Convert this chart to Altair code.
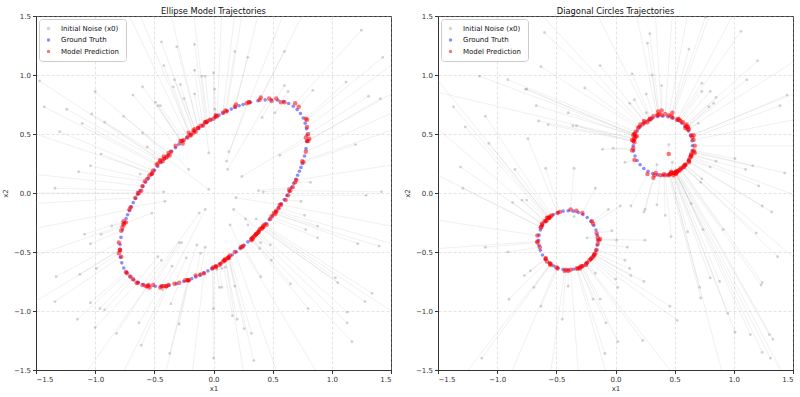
import altair as alt
import pandas as pd

# ---------------------------------------------------------------- data
TICKS = [-1.5, -1.0, -0.5, 0.0, 0.5, 1.0, 1.5]
SERIES = ["Initial Noise (x0)", "Ground Truth", "Model Prediction"]

# Ellipse target samples
ellipse_gt = [
    (0.707, 0.707), (0.674, 0.735), (0.635, 0.758), (0.592, 0.775), (0.544, 0.786), (0.491, 0.790),
    (0.436, 0.789), (0.376, 0.782), (0.314, 0.769), (0.250, 0.750), (0.217, 0.739), (0.184, 0.726),
    (0.150, 0.711), (0.116, 0.696), (0.082, 0.678), (0.047, 0.660), (0.013, 0.640), (-0.021, 0.620),
    (-0.056, 0.598), (-0.091, 0.574), (-0.124, 0.550), (-0.158, 0.525), (-0.192, 0.498), (-0.225, 0.471),
    (-0.258, 0.443), (-0.291, 0.414), (-0.322, 0.384), (-0.354, 0.354), (-0.384, 0.322), (-0.414, 0.291),
    (-0.443, 0.258), (-0.471, 0.225), (-0.498, 0.192), (-0.525, 0.158), (-0.550, 0.124), (-0.574, 0.091),
    (-0.598, 0.056), (-0.620, 0.021), (-0.640, -0.013), (-0.660, -0.047), (-0.678, -0.082), (-0.696, -0.116),
    (-0.711, -0.150), (-0.726, -0.184), (-0.739, -0.217), (-0.750, -0.250), (-0.769, -0.314), (-0.782, -0.376),
    (-0.789, -0.436), (-0.790, -0.491), (-0.786, -0.544), (-0.775, -0.592), (-0.758, -0.635), (-0.735, -0.674),
    (-0.707, -0.707), (-0.674, -0.735), (-0.635, -0.758), (-0.592, -0.775), (-0.544, -0.786), (-0.491, -0.790),
    (-0.436, -0.789), (-0.376, -0.782), (-0.314, -0.769), (-0.250, -0.750), (-0.217, -0.739), (-0.184, -0.726),
    (-0.150, -0.711), (-0.116, -0.696), (-0.082, -0.678), (-0.047, -0.660), (-0.013, -0.640), (0.021, -0.620),
    (0.056, -0.598), (0.091, -0.574), (0.124, -0.550), (0.158, -0.525), (0.192, -0.498), (0.225, -0.471),
    (0.258, -0.443), (0.291, -0.414), (0.322, -0.384), (0.354, -0.354), (0.384, -0.322), (0.414, -0.291),
    (0.443, -0.258), (0.471, -0.225), (0.498, -0.192), (0.525, -0.158), (0.550, -0.124), (0.574, -0.091),
    (0.598, -0.056), (0.620, -0.021), (0.640, 0.013), (0.660, 0.047), (0.678, 0.082), (0.696, 0.116),
    (0.711, 0.150), (0.726, 0.184), (0.739, 0.217), (0.750, 0.250), (0.769, 0.314), (0.782, 0.376),
    (0.789, 0.436), (0.790, 0.491), (0.786, 0.544), (0.775, 0.592), (0.758, 0.635), (0.735, 0.674),
]

# Ellipse model: starting noise and where each sample ends up
ellipse_noise = [
    (1.25, 1.38), (-0.44, 1.28), (-0.31, 1.24), (-0.16, 1.26), (0.18, 1.20), (0.29, 1.15), (0.60, 1.20),
    (1.43, 1.15), (-0.42, 1.08), (-0.16, 1.04), (-0.10, 0.99), (-0.07, 0.99), (0.00, 1.02), (-1.47, 0.95),
    (-0.33, 0.96), (-0.34, 0.90), (-0.28, 0.92), (-0.60, 0.90), (0.01, 0.88), (0.60, 0.91), (0.63, 0.86),
    (0.84, 0.87), (1.12, 0.94), (-1.00, 0.86), (-0.68, 0.83), (-0.16, 0.84), (-0.25, 0.80), (1.31, 0.82),
    (1.41, 0.80), (-1.43, 0.73), (-1.24, 0.71), (-0.49, 0.77), (-0.47, 0.74), (-0.45, 0.74), (-1.03, 0.67),
    (0.01, 0.71), (-0.76, 0.65), (-0.92, 0.60), (-1.11, 0.59), (0.41, 0.64), (0.52, 0.68), (-1.30, 0.52),
    (-0.60, 0.51), (1.20, 0.41), (-0.56, 0.39), (-0.04, 0.34), (0.13, 0.35), (0.56, 0.32), (-0.95, 0.33),
    (-1.04, 0.23), (-1.14, 0.18), (0.11, 0.27), (0.12, 0.20), (-0.21, 0.20), (0.24, 0.14), (0.82, 0.09),
    (-0.62, 0.16), (-1.34, 0.04), (-0.04, 0.03), (-0.42, 0.01), (1.29, -0.02), (1.42, 0.01), (0.38, 0.02),
    (0.42, 0.01), (0.19, -0.04), (-0.41, -0.07), (-0.52, -0.17), (-0.12, -0.17), (-0.07, -0.14), (0.17, -0.14),
    (0.27, -0.22), (0.29, -0.27), (0.36, -0.22), (0.14, -0.27), (0.74, -0.07), (0.77, -0.19), (0.78, -0.31),
    (0.88, -0.28), (0.88, -0.38), (1.22, -0.43), (1.40, -0.45), (-1.09, -0.35), (-0.95, -0.35), (-1.04, -0.43),
    (-0.86, -0.28), (-0.29, -0.42), (-0.27, -0.42), (-0.14, -0.44), (-0.11, -0.51), (-0.07, -0.46), (-0.47, -0.54),
    (-0.44, -0.57), (-0.23, -0.55), (-0.35, -0.62), (-0.99, -0.64), (-1.13, -0.69), (-1.33, -0.71), (0.03, -0.65),
    (0.07, -0.64), (0.10, -0.63), (0.40, -0.42), (0.48, -0.44), (0.39, -0.47), (0.49, -0.57), (0.40, -0.71),
    (0.05, -0.80), (0.07, -0.80), (0.18, -0.79), (-0.43, -0.82), (0.65, -0.77), (1.03, -0.72), (1.05, -0.76),
    (1.34, -0.85), (1.28, -0.92), (-1.34, -0.92), (-1.04, -0.93), (-0.96, -0.98), (-0.92, -0.99), (-0.36, -0.94),
    (0.00, -0.98), (0.80, -0.98), (1.13, -1.01), (-1.15, -1.07), (-0.63, -1.10), (-0.29, -1.11), (0.16, -1.04),
    (0.20, -1.07), (0.26, -1.15), (0.32, -1.19), (1.13, -1.10), (-1.00, -1.14), (-0.82, -1.19), (-0.61, -1.29),
    (-0.37, -1.36), (0.00, -1.40), (0.34, -1.42), (1.17, -1.26),
    (-0.90, 1.90), (-0.50, 2.10), (-0.20, 1.80), (0.10, 2.20), (0.30, 1.90), (0.50, 2.00), (0.70, 1.80),
    (1.00, 2.00), (-0.70, 1.70), (0.20, 1.70), (1.80, 1.30), (2.00, 0.90), (1.70, 0.60), (1.90, 0.30),
    (1.60, -0.30), (2.10, -0.60), (1.80, -1.20), (1.70, 0.95), (-1.80, 0.60), (-1.90, 0.20), (-1.70, -0.10),
    (-2.00, -0.40), (-1.70, -0.60), (-1.80, -1.10), (-1.60, 0.00), (-0.90, -1.80), (-0.50, -1.90), (-0.20, -1.70),
    (0.30, -1.80), (0.60, -1.70), (1.10, -1.90), (-1.20, -1.70),
]
ellipse_pred = [
    (0.69, 0.76), (-0.17, 0.53), (-0.13, 0.55), (-0.07, 0.60), (0.10, 0.70), (0.19, 0.75), (0.40, 0.81),
    (0.79, 0.62), (-0.21, 0.51), (-0.09, 0.57), (-0.05, 0.61), (-0.03, 0.62), (0.00, 0.63), (-0.45, 0.28),
    (-0.17, 0.51), (-0.19, 0.49), (-0.16, 0.54), (-0.27, 0.44), (0.02, 0.65), (0.53, 0.80), (0.57, 0.77),
    (0.72, 0.73), (0.78, 0.63), (-0.37, 0.32), (-0.32, 0.40), (-0.11, 0.57), (-0.15, 0.52), (0.80, 0.50),
    (0.80, 0.44), (-0.48, 0.24), (-0.45, 0.27), (-0.28, 0.44), (-0.26, 0.42), (-0.25, 0.45), (-0.42, 0.29),
    (0.02, 0.66), (-0.38, 0.34), (-0.43, 0.27), (-0.47, 0.25), (0.49, 0.78), (0.60, 0.77), (-0.51, 0.19),
    (-0.39, 0.31), (0.76, 0.26), (-0.40, 0.30), (-0.07, 0.60), (0.30, 0.77), (0.81, 0.46), (-0.52, 0.16),
    (-0.56, 0.12), (-0.58, 0.10), (0.28, 0.76), (0.47, 0.80), (-0.36, 0.35), (0.78, 0.47), (0.69, 0.09),
    (-0.54, 0.15), (-0.61, 0.02), (-0.42, 0.31), (-0.64, 0.00), (0.63, -0.02), (0.65, 0.02), (0.67, 0.05),
    (0.64, 0.03), (0.56, -0.10), (-0.70, -0.12), (-0.76, -0.26), (-0.57, -0.79), (-0.40, -0.79), (0.39, -0.31),
    (0.38, -0.33), (0.36, -0.35), (0.45, -0.27), (0.23, -0.46), (0.61, -0.06), (0.55, -0.13), (0.49, -0.20),
    (0.53, -0.16), (0.48, -0.22), (0.51, -0.17), (0.52, -0.18), (-0.76, -0.24), (-0.77, -0.29), (-0.78, -0.32),
    (-0.74, -0.25), (-0.54, -0.80), (-0.51, -0.78), (-0.24, -0.74), (-0.15, -0.70), (-0.11, -0.69), (-0.65, -0.76),
    (-0.60, -0.78), (-0.33, -0.77), (-0.45, -0.80), (-0.80, -0.51), (-0.79, -0.48), (-0.80, -0.42), (0.02, -0.62),
    (0.06, -0.60), (0.09, -0.57), (0.35, -0.36), (0.37, -0.34), (0.32, -0.39), (0.33, -0.38), (0.25, -0.45),
    (0.02, -0.63), (0.05, -0.61), (0.12, -0.55), (-0.42, -0.79), (0.33, -0.39), (0.42, -0.29), (0.41, -0.30),
    (0.43, -0.27), (0.40, -0.30), (-0.78, -0.54), (-0.74, -0.67), (-0.70, -0.71), (-0.68, -0.73), (-0.29, -0.76),
    (0.00, -0.63), (0.32, -0.40), (0.38, -0.33), (-0.73, -0.68), (-0.44, -0.79), (-0.21, -0.74), (0.08, -0.58),
    (0.10, -0.56), (0.13, -0.55), (0.14, -0.53), (0.36, -0.35), (-0.64, -0.76), (-0.55, -0.78), (-0.38, -0.78),
    (-0.22, -0.74), (-0.01, -0.64), (0.13, -0.54), (0.34, -0.37),
    (-0.22, 0.47), (-0.13, 0.55), (-0.06, 0.60), (0.03, 0.65), (0.11, 0.69), (0.18, 0.73), (0.30, 0.77),
    (0.39, 0.79), (-0.20, 0.49), (0.08, 0.68), (0.79, 0.56), (0.78, 0.35), (0.75, 0.27), (0.70, 0.11),
    (0.57, -0.10), (0.53, -0.15), (0.42, -0.28), (0.79, 0.44), (-0.52, 0.17), (-0.60, 0.06), (-0.66, -0.04),
    (-0.71, -0.14), (-0.76, -0.27), (-0.79, -0.48), (-0.63, 0.00), (-0.40, -0.79), (-0.21, -0.74), (-0.08, -0.68),
    (0.10, -0.57), (0.18, -0.50), (0.24, -0.46), (-0.56, -0.79),
]

# Two diagonal circles target samples
circles_gt = [
    (0.650, 0.400), (0.646, 0.443), (0.635, 0.486), (0.617, 0.525), (0.592, 0.561), (0.561, 0.592),
    (0.525, 0.617), (0.486, 0.635), (0.443, 0.646), (0.400, 0.650), (0.357, 0.646), (0.314, 0.635),
    (0.275, 0.617), (0.239, 0.592), (0.208, 0.561), (0.183, 0.525), (0.165, 0.486), (0.154, 0.443),
    (0.150, 0.400), (0.154, 0.357), (0.165, 0.314), (0.183, 0.275), (0.208, 0.239), (0.239, 0.208),
    (0.275, 0.183), (0.314, 0.165), (0.357, 0.154), (0.400, 0.150), (0.443, 0.154), (0.486, 0.165),
    (0.525, 0.183), (0.561, 0.208), (0.592, 0.239), (0.617, 0.275), (0.635, 0.314), (0.646, 0.357),
    (-0.150, -0.400), (-0.154, -0.357), (-0.165, -0.314), (-0.183, -0.275), (-0.208, -0.239), (-0.239, -0.208),
    (-0.275, -0.183), (-0.314, -0.165), (-0.357, -0.154), (-0.400, -0.150), (-0.443, -0.154), (-0.486, -0.165),
    (-0.525, -0.183), (-0.561, -0.208), (-0.592, -0.239), (-0.617, -0.275), (-0.635, -0.314), (-0.646, -0.357),
    (-0.650, -0.400), (-0.646, -0.443), (-0.635, -0.486), (-0.617, -0.525), (-0.592, -0.561), (-0.561, -0.592),
    (-0.525, -0.617), (-0.486, -0.635), (-0.443, -0.646), (-0.400, -0.650), (-0.357, -0.646), (-0.314, -0.635),
    (-0.275, -0.617), (-0.239, -0.592), (-0.208, -0.561), (-0.183, -0.525), (-0.165, -0.486), (-0.154, -0.443),
]

circles_noise = [
    (-0.60, 1.36), (0.29, 1.35), (0.27, 1.27), (0.62, 1.22), (0.76, 1.49), (1.06, 1.37), (1.20, 1.12),
    (-0.13, 1.08), (-0.63, 1.07), (0.14, 1.01), (0.31, 1.00), (-1.15, 0.99), (-0.91, 0.96), (-0.76, 0.88),
    (-0.75, 0.88), (-0.26, 0.89), (0.39, 0.91), (0.73, 0.93), (1.11, 0.96), (0.26, 0.84), (0.73, 0.86),
    (0.80, 0.86), (0.85, 0.81), (0.83, 0.76), (0.79, 0.73), (1.45, 0.83), (1.39, 0.74), (-1.37, 0.73),
    (-1.10, 0.65), (-0.67, 0.74), (-0.40, 0.68), (0.16, 0.79), (0.12, 0.76), (0.26, 0.68), (-0.65, 0.61),
    (-0.57, 0.58), (-0.36, 0.57), (-0.33, 0.57), (-1.27, 0.56), (0.70, 0.59), (-0.74, 0.46), (-1.07, 0.42),
    (-0.11, 0.37), (-0.02, 0.38), (0.45, 0.41), (0.08, 0.26), (1.01, 0.29), (0.85, 0.27), (1.16, 0.23),
    (1.10, 0.20), (1.43, 0.17), (0.80, 0.22), (-1.31, 0.22), (-0.85, 0.20), (-0.59, 0.21), (-0.35, 0.21),
    (0.73, 0.12), (0.72, 0.09), (1.21, 0.06), (-1.29, 0.04), (-0.17, 0.04), (0.35, 0.24), (0.48, 0.26),
    (-0.87, -0.08), (-0.79, -0.06), (-0.75, -0.06), (-0.06, -0.14), (0.04, -0.11), (0.13, -0.11), (0.25, -0.14),
    (0.24, -0.16), (0.35, -0.10), (0.42, -0.19), (0.64, -0.09), (1.24, -0.11), (1.32, -0.16), (-0.35, -0.20),
    (-0.24, -0.38), (-0.03, -0.32), (0.01, -0.40), (0.25, -0.40), (0.47, -0.37), (0.61, -0.33), (0.74, -0.31),
    (0.91, -0.31), (1.19, -0.34), (-1.10, -0.46), (-0.91, -0.50), (0.10, -0.46), (0.08, -0.57), (0.12, -0.64),
    (0.13, -0.70), (-0.17, -0.68), (0.00, -0.73), (0.02, -0.80), (0.24, -0.75), (1.37, -0.54), (-0.77, -0.70),
    (-0.72, -0.66), (-0.69, -0.80), (-0.90, -0.90), (-0.40, -0.79), (-0.19, -0.90), (-0.13, -0.90), (-0.63, -0.96),
    (-0.45, -1.07), (-0.08, -1.10), (0.46, -0.96), (0.52, -1.08), (0.71, -0.80), (0.72, -0.89), (0.80, -0.72),
    (0.88, -0.75), (1.24, -0.76), (1.23, -0.78), (0.95, -1.02), (1.01, -1.18), (1.14, -1.20), (1.30, -1.20),
    (1.33, -1.24), (1.24, -1.35), (1.31, -1.40), (0.23, -1.25), (0.02, -1.26), (-0.09, -1.36), (-1.13, -1.40),
    (0.10, 1.90), (0.30, 2.10), (0.50, 1.80), (0.70, 2.00), (-0.30, 1.80), (0.90, 1.80), (-0.80, 1.70),
    (1.20, 1.90), (1.80, 1.30), (1.90, 0.70), (1.70, 0.40), (2.00, -0.20), (1.80, -0.80), (1.90, 1.00),
    (-1.80, 0.80), (-1.70, -0.20), (-1.90, -0.50), (-1.80, 0.30), (-1.70, 1.20), (-1.70, 0.90), (-1.00, -1.80),
    (-0.60, -1.90), (-0.30, -1.70), (0.00, -1.80), (-1.40, -1.70), (0.70, -1.80), (1.00, -1.90), (1.50, -1.70),
]
circles_pred = [
    (0.21, 0.58), (0.37, 0.67), (0.36, 0.66), (0.47, 0.65), (0.48, 0.68), (0.54, 0.62), (0.60, 0.58),
    (0.25, 0.60), (0.19, 0.55), (0.30, 0.63), (0.36, 0.69), (0.16, 0.50), (0.17, 0.52), (0.16, 0.50),
    (0.18, 0.48), (0.20, 0.56), (0.39, 0.70), (0.53, 0.63), (0.61, 0.56), (0.32, 0.65), (0.55, 0.61),
    (0.57, 0.60), (0.59, 0.57), (0.61, 0.56), (0.59, 0.55), (0.66, 0.49), (0.65, 0.47), (-0.57, -0.21),
    (-0.54, -0.19), (0.15, 0.49), (0.17, 0.48), (0.27, 0.60), (0.24, 0.61), (0.29, 0.62), (0.14, 0.45),
    (0.15, 0.44), (0.16, 0.46), (0.16, 0.43), (-0.58, -0.21), (0.62, 0.54), (-0.49, -0.17), (-0.56, -0.21),
    (0.15, 0.38), (0.14, 0.36), (0.45, 0.33), (0.16, 0.28), (0.66, 0.36), (0.64, 0.33), (0.67, 0.34),
    (0.64, 0.32), (0.66, 0.35), (0.62, 0.28), (-0.62, -0.26), (-0.55, -0.20), (-0.47, -0.16), (-0.38, -0.14),
    (0.59, 0.24), (0.57, 0.22), (0.63, 0.30), (-0.63, -0.29), (-0.28, -0.17), (0.34, 0.17), (0.47, 0.18),
    (-0.62, -0.27), (-0.60, -0.24), (-0.58, -0.23), (-0.20, -0.24), (-0.19, -0.26), (0.27, 0.16), (0.33, 0.15),
    (0.32, 0.13), (0.38, 0.15), (0.41, 0.16), (0.51, 0.16), (0.62, 0.27), (0.62, 0.26), (-0.33, -0.15),
    (-0.15, -0.38), (-0.16, -0.34), (-0.14, -0.40), (-0.13, -0.39), (0.42, 0.15), (0.47, 0.17), (0.51, 0.18),
    (0.55, 0.20), (0.58, 0.22), (-0.66, -0.42), (-0.64, -0.46), (-0.15, -0.43), (-0.16, -0.48), (-0.17, -0.51),
    (-0.18, -0.52), (-0.24, -0.59), (-0.21, -0.56), (-0.22, -0.57), (-0.18, -0.53), (0.58, 0.23), (-0.59, -0.56),
    (-0.59, -0.55), (-0.55, -0.60), (-0.58, -0.58), (-0.40, -0.66), (-0.30, -0.63), (-0.28, -0.62), (-0.49, -0.64),
    (-0.42, -0.65), (-0.30, -0.64), (-0.19, -0.54), (-0.20, -0.55), (0.46, 0.16), (0.45, 0.15), (0.48, 0.17),
    (0.50, 0.17), (0.55, 0.21), (0.54, 0.19), (0.49, 0.17), (0.49, 0.15), (0.51, 0.17), (0.52, 0.18),
    (0.53, 0.19), (0.51, 0.18), (0.51, 0.17), (-0.25, -0.61), (-0.29, -0.62), (-0.32, -0.64), (-0.55, -0.61),
    (0.35, 0.66), (0.39, 0.66), (0.42, 0.67), (0.45, 0.66), (0.29, 0.63), (0.48, 0.64), (0.23, 0.58),
    (0.52, 0.62), (0.61, 0.54), (0.66, 0.45), (0.67, 0.40), (0.64, 0.31), (0.59, 0.24), (0.64, 0.49),
    (-0.59, -0.24), (-0.66, -0.36), (-0.66, -0.41), (-0.63, -0.29), (-0.56, -0.21), (0.16, 0.46), (-0.50, -0.63),
    (-0.43, -0.66), (-0.38, -0.65), (-0.33, -0.64), (-0.55, -0.60), (-0.25, -0.60), (0.46, 0.16), (0.52, 0.18),
]

# ---------------------------------------------------------------- style
FONT = "DejaVu Sans"
COLORS = ["#808080", "#0000ff", "#ff0000"]
OPACITIES = [0.35, 0.55, 0.9]


def points_frame(pts, label):
    return pd.DataFrame({"x": [p[0] for p in pts], "y": [p[1] for p in pts], "series": label})


def panel(title, gt, noise, pred):
    traj = pd.DataFrame({
        "x0": [p[0] for p in noise], "y0": [p[1] for p in noise],
        "x1": [p[0] for p in pred], "y1": [p[1] for p in pred],
    })
    scale = alt.Scale(domain=[-1.5, 1.5], nice=False, zero=False)
    x_axis = alt.Axis(values=TICKS, format=".1f", title="x1", titlePadding=2)
    y_axis = alt.Axis(values=TICKS, format=".1f", title="x2", titlePadding=5)

    legend = alt.Legend(
        orient="top-left", offset=3, padding=6, title=None,
        strokeColor="#cccccc", fillColor="white", cornerRadius=3,
        labelFont=FONT, labelFontSize=7, labelColor="#111111", labelOffset=9,
        symbolSize=12, symbolType="circle", rowPadding=3.5,
    )
    color = alt.Color("series:N", scale=alt.Scale(domain=SERIES, range=COLORS), legend=legend, title=None)
    opacity = alt.Opacity("series:N", scale=alt.Scale(domain=SERIES, range=OPACITIES), legend=legend, title=None)

    lines = alt.Chart(traj).mark_rule(color="#b5b5b5", opacity=0.3, strokeWidth=0.7, clip=True).encode(
        x=alt.X("x0:Q", scale=scale, axis=x_axis),
        y=alt.Y("y0:Q", scale=scale, axis=y_axis),
        x2="x1:Q",
        y2="y1:Q",
    )

    def dots(df, size):
        return alt.Chart(df).mark_circle(size=size, clip=True).encode(
            x=alt.X("x:Q", scale=scale, axis=x_axis),
            y=alt.Y("y:Q", scale=scale, axis=y_axis),
            color=color,
            opacity=opacity,
        )

    return alt.layer(
        lines,
        dots(points_frame(noise, SERIES[0]), 8),
        dots(points_frame(gt, SERIES[1]), 13),
        dots(points_frame(pred, SERIES[2]), 20),
    ).properties(width=355, height=354, title=title)


left = panel("Ellipse Model Trajectories", ellipse_gt, ellipse_noise, ellipse_pred)
right = panel("Diagonal Circles Trajectories", circles_gt, circles_noise, circles_pred)

chart = (
    alt.hconcat(left, right, spacing=11)
    .resolve_legend(color="independent", opacity="independent")
    .resolve_scale(color="independent", opacity="independent")
    .properties(padding={"left": 1, "top": 6, "right": 0, "bottom": 0})
    .configure_view(stroke="#333333", strokeWidth=1)
    .configure_axis(
        labelFont=FONT, labelFontSize=7, labelColor="#333333",
        titleFont=FONT, titleFontSize=7, titleFontWeight="normal", titleColor="#333333",
        domainColor="#333333", tickColor="#333333", tickSize=3.5,
        grid=True, gridColor="#b0b0b0", gridOpacity=0.6, gridDash=[3, 2], gridWidth=0.6,
        labelPadding=2,
    )
    .configure_title(font=FONT, fontSize=8.3, fontWeight="normal", color="#111111", offset=-3)
)

chart.save("out.html", embed_options={"renderer": "svg", "actions": False})
